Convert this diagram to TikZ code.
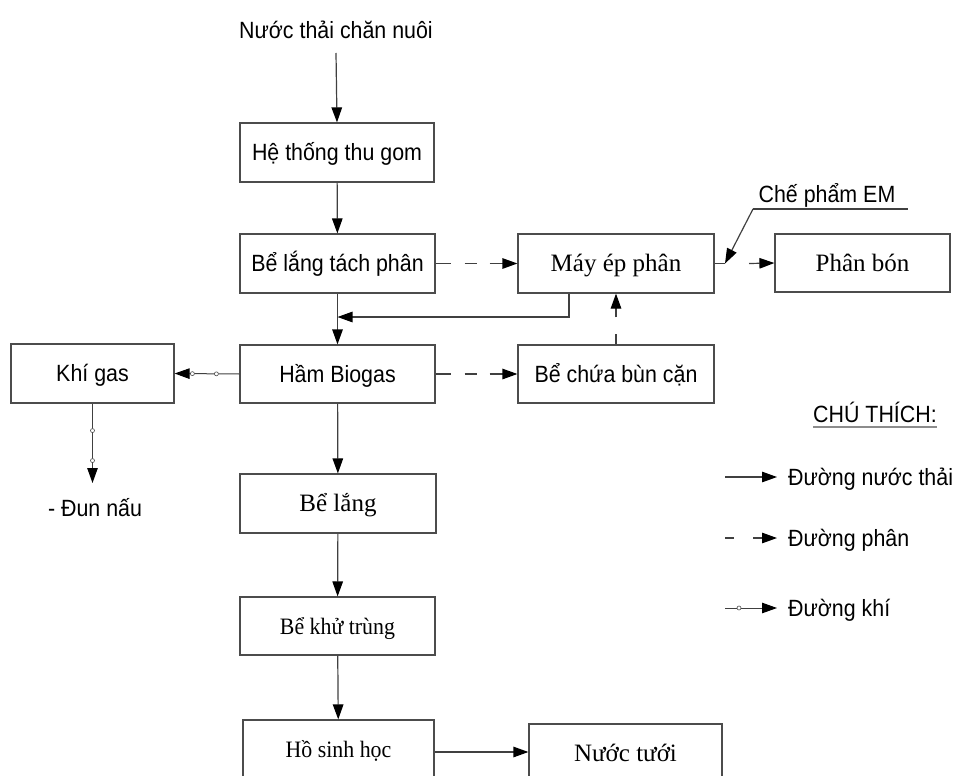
\documentclass[tikz,border=0pt]{standalone}
\usepackage{fontspec}
\usetikzlibrary{arrows.meta,decorations.markings,calc}
\newfontfamily\sfA[FakeStretch=0.91]{Liberation Sans}
\newfontfamily\rmA{Liberation Serif}
\newfontfamily\rmB[FakeStretch=0.93]{Liberation Serif}
\begin{document}
\begin{tikzpicture}[x=1pt,y=-1pt,
  ln/.style={draw=black!75,line width=1.2pt},
  arr/.style={ln,-{Triangle[length=15pt,width=10.5pt,color=black]}},
  box/.style={draw=black!70,line width=1.2pt,inner sep=0pt,text height=16.5pt,text depth=0pt},
  sfbox/.style={box,font=\sfA\fontsize{23.5}{26}\selectfont},
  rmbox/.style={box,font=\rmA\fontsize{25}{28}\selectfont},
  rmboxb/.style={box,font=\rmB\fontsize{23.5}{26}\selectfont},
  sftext/.style={inner sep=0pt,text height=16.5pt,text depth=0pt,font=\sfA\fontsize{23.5}{26}\selectfont},
  dashA/.style={dash pattern=on 15pt off 14pt on 12pt off 13pt on 80pt},
  gasmark/.style={postaction={decorate,decoration={markings,
     mark=at position #1 with {\draw[draw=black!70,fill=white,line width=0.6pt] (0,0) circle (2pt);}}}}
]
\useasboundingbox (0,0) rectangle (961,776);
\clip (0,0) rectangle (961,776);

% main column
\node[sftext] (src) at (336,30) {Nước thải chăn nuôi};
\node[sfbox,minimum width=194pt,minimum height=59pt] (thugom) at (337,152.5) {Hệ thống thu gom};
\node[sfbox,minimum width=195pt,minimum height=59pt] (tach) at (337.5,263.5) {Bể lắng tách phân};
\node[rmbox,minimum width=196pt,minimum height=59pt] (may) at (616,263.5) {Máy ép phân};
\node[rmbox,minimum width=175pt,minimum height=58pt] (phanbon) at (862.5,263) {Phân bón};
\node[sfbox,minimum width=195pt,minimum height=58pt] (biogas) at (337.5,374) {Hầm Biogas};
\node[sfbox,minimum width=196pt,minimum height=58pt] (bun) at (616,374) {Bể chứa bùn cặn};
\node[sfbox,minimum width=163pt,minimum height=59pt] (khigas) at (92.5,373.5) {Khí gas};
\node[sftext] (dun) at (95,508) {- Đun nấu};
\node[rmbox,minimum width=196pt,minimum height=59pt] (belang) at (338,503.5) {Bể lắng};
\node[rmboxb,minimum width=195pt,minimum height=58pt] (khutrung) at (337.5,626) {Bể khử trùng};
\node[rmboxb,minimum width=191pt,minimum height=59pt] (hosinh) at (338.5,749.5) {Hồ sinh học};
\node[rmbox,minimum width=193pt,minimum height=59pt] (nuoctuoi) at (625.5,753.5) {Nước tưới};

% helper coordinates
\coordinate (y53) at (0,53);
\coordinate (y483) at (0,483);
\coordinate (y752) at (0,752);
\coordinate (fb) at (569,317);
\coordinate (jn) at (725,263.5);
\coordinate (em1) at (753,209);
\coordinate (em2) at (908,209);
\coordinate (pbin) at (749,263.5);

% water lines
\draw[arr] (src.south |- y53) -- (thugom.north);
\draw[arr] (thugom) -- (tach);
\draw[arr] (tach) -- (biogas);
\draw[arr] (biogas) -- (belang);
\draw[arr] (belang) -- (khutrung);
\draw[arr] (khutrung) -- (hosinh);
\draw[arr] (hosinh.east |- y752) -- (nuoctuoi.west |- y752);
\draw[arr] (may.south -| fb) |- (tach.south |- fb);

% sludge lines
\draw[arr,dashA] (tach) -- (may);
\draw[arr,dashA] (biogas) -- (bun);
\draw[arr,dash pattern=on 10pt off 17pt on 80pt] (bun.north) -- (may.south -| bun.north);

% EM
\draw[ln] (may.east) -- (jn);
\draw[arr] (em1) -- (jn);
\draw[ln] (em1) -- (em2);
\node[sftext] (emlbl) at (827,194) {Chế phẩm EM};
\draw[arr] (pbin) -- (phanbon.west);

% gas lines
\draw[arr,line width=1pt,gasmark=23pt,gasmark=47pt] (biogas.west) -- (khigas.east);
\draw[arr,line width=1pt,gasmark=27pt,gasmark=57pt] (khigas.south) -- (khigas.south |- y483);

% legend
\node[sftext] (chu) at (875,414) {CHÚ THÍCH:};
\coordinate (y427) at (0,427);
\draw[draw=black!45,line width=1.2pt] (chu.west |- y427) -- (chu.east |- y427);
\coordinate (l1a) at (725,477); \coordinate (l1b) at (777,477);
\coordinate (l2a) at (725,538); \coordinate (l2b) at (777,538);
\coordinate (l3a) at (725,608); \coordinate (l3b) at (777,608);
\draw[arr] (l1a) -- (l1b);
\draw[arr,dash pattern=on 9pt off 19pt on 60pt] (l2a) -- (l2b);
\draw[arr,line width=1pt,gasmark=14pt] (l3a) -- (l3b);
\node[sftext,anchor=west] (lg1) at (788,477) {Đường nước thải};
\node[sftext,anchor=west] (lg2) at (788,538) {Đường phân};
\node[sftext,anchor=west] (lg3) at (788,608) {Đường khí};
\end{tikzpicture}
\end{document}
